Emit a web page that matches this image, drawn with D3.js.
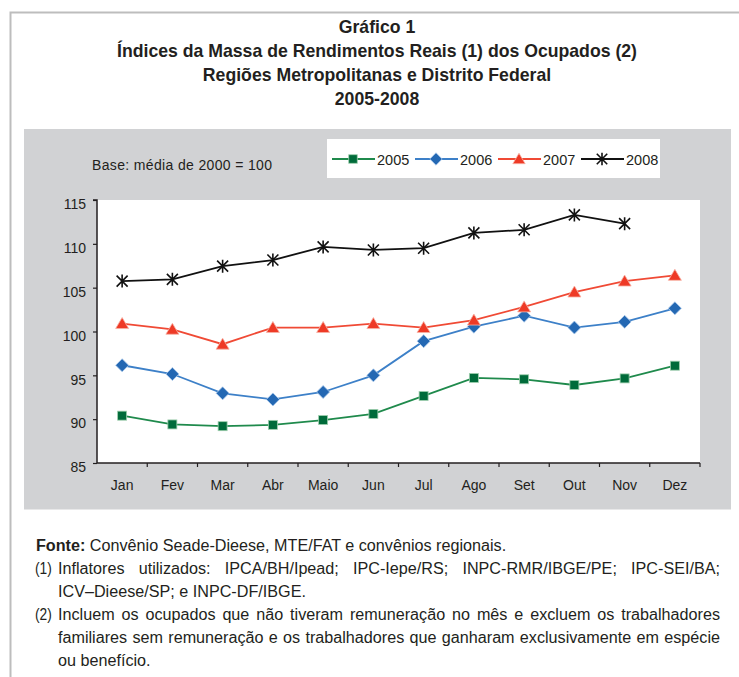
<!DOCTYPE html>
<html>
<head>
<meta charset="utf-8">
<script src="https://cdn.jsdelivr.net/npm/d3@7"></script>
<style>
  html, body { margin: 0; padding: 0; background: #fff; }
  svg { display: block; }
</style>
</head>
<body>
<svg id="chart" width="739" height="677"></svg>
<script>
// ---- data ----
const months = ["Jan","Fev","Mar","Abr","Maio","Jun","Jul","Ago","Set","Out","Nov","Dez"];
const years = ["2005","2006","2007","2008"];
const s2005 = [90.4, 89.4, 89.2, 89.35, 89.9, 90.6, 92.65, 94.7, 94.55, 93.9, 94.65, 96.1];
const s2006 = [96.15, 95.15, 92.95, 92.25, 93.1, 95.0, 98.9, 100.55, 101.8, 100.45, 101.1, 102.65];
const s2007 = [100.9, 100.25, 98.55, 100.45, 100.45, 100.9, 100.45, 101.3, 102.8, 104.5, 105.75, 106.4];
const s2008 = [105.75, 105.95, 107.45, 108.15, 109.65, 109.3, 109.5, 111.25, 111.6, 113.3, 112.3, null];
const yTicks = [85, 90, 95, 100, 105, 110, 115];

const titleLines = [
  "Gráfico 1",
  "Índices da Massa de Rendimentos Reais (1) dos Ocupados (2)",
  "Regiões Metropolitanas e Distrito Federal",
  "2005-2008"
];
const baseNote = "Base: média de 2000 = 100";

// ---- styles ----
const styles = [
  {line: "#1f8a4c", fill: "#006b3a", marker: "square"},
  {line: "#3d80c8", fill: "#2468b3", marker: "diamond"},
  {line: "#f04a35", fill: "#ee3a26", marker: "triangle"},
  {line: "#111111", fill: "#111111", marker: "star"}
];
const seriesData = [s2005, s2006, s2007, s2008];

const svg = d3.select("#chart");
const SANS = "'Liberation Sans', Arial, sans-serif";

// outer frame
svg.append("path")
  .attr("d", "M10.5,677 L10.5,12.5 L739,12.5")
  .attr("fill", "none").attr("stroke", "#bdbdbd").attr("stroke-width", 2);

// title
const tg = svg.append("g");
const tBase = [33, 57, 81, 105];
const tNodes = titleLines.map((t, i) => tg.append("text")
  .attr("x", 377).attr("y", tBase[i])
  .attr("text-anchor", "middle")
  .attr("font-family", SANS).attr("font-weight", "bold")
  .attr("font-size", 18.5).attr("fill", "#231f20")
  .text(t));
const nat2 = tNodes[1].node().getComputedTextLength();
const ts = 520 / nat2;
tNodes.forEach((n) => {
  const w = n.node().getComputedTextLength() * ts;
  n.attr("textLength", w).attr("lengthAdjust", "spacingAndGlyphs");
});

// gray panel
svg.append("rect").attr("x", 24).attr("y", 129).attr("width", 707).attr("height", 380.5)
  .attr("fill", "#d1d2d4");

// base note
svg.append("text").attr("x", 92).attr("y", 169.5)
  .attr("font-family", SANS).attr("font-size", 14).attr("fill", "#231f20")
  .attr("textLength", 180).attr("lengthAdjust", "spacing")
  .text(baseNote);

// plot area
const L = 97, R = 700, T = 200, B = 463;
svg.append("rect").attr("x", L).attr("y", T).attr("width", R - L).attr("height", B - T).attr("fill", "#fff");

const x = d3.scaleBand().domain(months).range([L, R]);
const y = d3.scaleLinear().domain([85, 115]).range([B, T]);

// y axis
const yAxis = d3.axisLeft(y).tickValues(yTicks).tickSize(4).tickPadding(7).tickFormat(d3.format("d"));
const yg = svg.append("g").attr("transform", `translate(${L},0)`).call(yAxis);
yg.select(".domain").attr("stroke", "#231f20").attr("stroke-width", 1.5).attr("d", `M-4,${T}H0V${B}`);
yg.selectAll(".tick line").attr("stroke", "#231f20").attr("stroke-width", 1.2);
yg.selectAll(".tick text").attr("font-family", SANS).attr("font-size", 14).attr("fill", "#231f20").attr("dy", "0.62em").attr("y", 0);

// x axis
const xAxis = d3.axisBottom(x).tickSize(0).tickPadding(18);
const xg = svg.append("g").attr("transform", `translate(0,${B})`).call(xAxis);
xg.select(".domain").attr("stroke", "#231f20").attr("stroke-width", 1.5).attr("d", `M${L},0H${R}`);
xg.selectAll(".tick text").attr("font-family", SANS).attr("font-size", 14).attr("fill", "#231f20").attr("dy", "0.71em").attr("y", 17);
const bounds = months.map(m => x(m)).concat([x.range()[1]]).slice(1);
xg.selectAll(".btick").data(bounds).enter().append("line")
  .attr("x1", d => d).attr("x2", d => d).attr("y1", 0).attr("y2", 4)
  .attr("stroke", "#231f20").attr("stroke-width", 1.2);

// markers
function marker(g, type, cx, cy, st, scale) {
  scale = scale || 1;
  if (type === "square") {
    const s = 9 * scale;
    g.append("rect").attr("x", cx - s / 2).attr("y", cy - s / 2).attr("width", s).attr("height", s)
      .attr("fill", st.fill).attr("stroke", "#9fcfae").attr("stroke-width", 0.8);
  } else if (type === "diamond") {
    const s = 6.5 * scale;
    g.append("path").attr("d", `M${cx},${cy - s}L${cx + s},${cy}L${cx},${cy + s}L${cx - s},${cy}Z`)
      .attr("fill", st.fill).attr("stroke", "#a9c8ea").attr("stroke-width", 0.8);
  } else if (type === "triangle") {
    const w = 6.5 * scale, h = 11 * scale;
    g.append("path").attr("d", `M${cx},${cy - h * 0.55}L${cx + w},${cy + h * 0.45}L${cx - w},${cy + h * 0.45}Z`)
      .attr("fill", st.fill).attr("stroke", "#f7b2a6").attr("stroke-width", 0.8);
  } else if (type === "star") {
    const s = 5.5 * scale;
    g.append("path").attr("d",
      `M${cx - s},${cy - s}L${cx + s},${cy + s}M${cx - s},${cy + s}L${cx + s},${cy - s}M${cx},${cy - s - 1}L${cx},${cy + s + 1}`)
      .attr("stroke", st.fill).attr("stroke-width", 1.6).attr("fill", "none");
  }
}

const line = d3.line()
  .defined(d => d.v !== null)
  .x(d => x(d.m) + x.bandwidth() / 2)
  .y(d => y(d.v));

seriesData.forEach((sd, i) => {
  const st = styles[i];
  const pts = months.map((m, j) => ({m, v: sd[j]}));
  const g = svg.append("g");
  g.append("path").datum(pts).attr("d", line)
    .attr("fill", "none").attr("stroke", st.line).attr("stroke-width", 1.8);
  pts.filter(p => p.v !== null).forEach(p => marker(g, st.marker, x(p.m) + x.bandwidth() / 2, y(p.v), st));
});

// legend
svg.append("rect").attr("x", 327).attr("y", 139).attr("width", 333).attr("height", 39).attr("fill", "#fff");
years.forEach((yr, i) => {
  const x0 = 332 + i * 83, cy = 159;
  const st = styles[i];
  const g = svg.append("g");
  g.append("line").attr("x1", x0).attr("x2", x0 + 43).attr("y1", cy).attr("y2", cy)
    .attr("stroke", st.line).attr("stroke-width", 1.8);
  marker(g, st.marker, x0 + 21, cy, st, 0.95);
  g.append("text").attr("x", x0 + 45).attr("y", cy + 5.5)
    .attr("font-family", SANS).attr("font-size", 14.5).attr("fill", "#231f20").text(yr);
});

// footnotes
const FS = 16;
const fg = svg.append("g").attr("font-family", SANS).attr("font-size", FS).attr("fill", "#231f20");
const probe = fg.append("text").attr("x", 0).attr("y", -50).text("ICV–Dieese/SP; e INPC-DF/IBGE.");
const fs = 248 / probe.node().getComputedTextLength();
probe.remove();

function narrowText(xp, yp, txt, targetW, extraScale) {
  const sc = fs * (extraScale || 1);
  const g = fg.append("g").attr("transform", `translate(${xp},${yp}) scale(${sc},1)`);
  const t = g.append("text").attr("x", 0).attr("y", 0).text(txt);
  if (targetW) {
    const nat = t.node().getComputedTextLength();
    const nSp = (txt.match(/ /g) || []).length;
    const extra = (targetW / sc - nat) / nSp;
    if (extra >= 0) t.attr("word-spacing", extra);
    else t.attr("textLength", targetW / sc).attr("lengthAdjust", "spacingAndGlyphs");
  }
  return t;
}

const fonteG = fg.append("g").attr("transform", `translate(36,551) scale(${fs},1)`);
const fonte = fonteG.append("text").attr("x", 0).attr("y", 0);
fonte.append("tspan").attr("font-weight", "bold").text("Fonte:");
fonte.append("tspan").text(" Convênio Seade-Dieese, MTE/FAT e convênios regionais.");

const notes = [
  {lab: "(1)", text: "Inflatores utilizados: IPCA/BH/Ipead; IPC-Iepe/RS; INPC-RMR/IBGE/PE; IPC-SEI/BA;", y: 574, just: true},
  {lab: null, text: "ICV–Dieese/SP; e INPC-DF/IBGE.", y: 597, just: false},
  {lab: "(2)", text: "Incluem os ocupados que não tiveram remuneração no mês e excluem os trabalhadores", y: 620, just: true},
  {lab: null, text: "familiares sem remuneração e os trabalhadores que ganharam exclusivamente em espécie", y: 643, just: true},
  {lab: null, text: "ou benefício.", y: 666, just: false}
];
notes.forEach(n => {
  if (n.lab) narrowText(35, n.y, n.lab, null, 0.85);
  narrowText(58, n.y, n.text, n.just ? (720 - 58) : null);
});
</script>
</body>
</html>
